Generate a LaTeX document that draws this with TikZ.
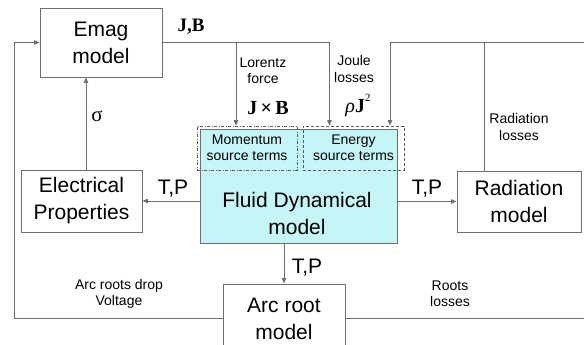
\documentclass[tikz,border=0pt]{standalone}
\usepackage{fontspec}
\setmainfont{Liberation Sans}
\newfontfamily\serifb{Liberation Serif}
\usetikzlibrary{arrows.meta}
\definecolor{linegray}{HTML}{6E6E6E}
\definecolor{fluidfill}{HTML}{C6F5F7}
\begin{document}
\begin{tikzpicture}[x=1pt,y=-1pt,
  conn/.style={draw=linegray, line width=0.9pt},
  arr/.style={conn, -{Triangle[length=5.5pt,width=4.5pt]}},
  box/.style={draw=linegray, line width=0.9pt, fill=white, align=center, inner sep=0pt,
     font=\fontsize{21}{27}\selectfont},
  small/.style={align=center, inner sep=0pt, font=\fontsize{14}{16.5}\selectfont},
  sym/.style={inner sep=0pt},
  tp/.style={inner sep=0pt, font=\fontsize{21}{24}\selectfont}]
\useasboundingbox (0,0) rectangle (584,345);
\begin{scope}
\clip (0,0) rectangle (584,345);
% boxes
\node[box, minimum width=122pt, minimum height=69pt] (emag) at (101,42.5) {Emag\\model};
\node[box, minimum width=121pt, minimum height=62pt] (elec) at (81.5,201) {Electrical\\Properties};
\node[box, fill=fluidfill, minimum width=197pt, minimum height=114pt] (fluid) at (298.5,186) {};
\node[box, minimum width=124pt, minimum height=61pt] (rad) at (519,201.5) {Radiation\\model};
\node[box, minimum width=122pt, minimum height=69pt] (arc) at (284,318.5) {Arc root\\model};
\node[box, fill=none, draw=none] (fluidtxt) at (297,213) {Fluid Dynamical\\model};
% source term boxes
\node[small, draw=linegray!80!black, line width=0.7pt, dash pattern=on 3pt off 1.5pt on 1pt off 1.5pt,
      minimum width=100pt, minimum height=44pt] (mom) at (247,148) {Momentum\\source terms};
\node[small, draw=linegray!80!black, line width=0.7pt, dash pattern=on 3pt off 2pt,
      minimum width=101pt, minimum height=44pt] (energy) at (353.5,148) {Energy\\source terms};
% coordinates
\coordinate (jb) at (329.5,42.5);
\coordinate (lz) at (236,42.5);
\coordinate (rtop) at (484,42.5);
\coordinate (rleft) at (390,42.5);
\coordinate (redge) at (584,42.5);
\coordinate (lc) at (14,318.5);
\coordinate (bedge) at (584,318.5);
% connectors
\draw[arr] (emag.east) -- (jb) -- (jb |- energy.north);
\draw[arr] (lz) -- (lz |- mom.north);
\draw[arr] (rad.north -| rtop) -- (rtop) -- (rleft) -- (rleft |- energy.north);
\draw[conn] (rtop) -- (redge);
\draw[arr] (fluid.west |- elec.east) -- (elec.east);
\draw[arr] (fluid.east |- rad.west) -- (rad.west);
\draw[arr] (fluid.south -| arc.north) -- (arc.north);
\draw[arr] ([xshift=4.5pt]elec.north) -- ([xshift=4.5pt]elec.north |- emag.south);
\draw[arr] (arc.west) -- (lc) -- (lc |- emag.west) -- (emag.west);
\draw[conn] (arc.east) -- (bedge);
% labels
\node[sym, font=\serifb\bfseries\fontsize{19}{19}\selectfont] (jblab) at (191,27) {J,B};
\node[small] (lorentz) at (263,71) {Lorentz\\force};
\node[sym, font=\serifb\bfseries\fontsize{20}{20}\selectfont] (jxb) at (268,108) {J\,×\,B};
\node[small] (joule) at (354,69) {Joule\\losses};
\node[sym, font=\serifb\fontsize{20}{20}\selectfont] (rhoj) at (358,105) {\textit{ρ}\textbf{J}\raisebox{0.55em}{\fontsize{11}{11}\selectfont 2}};
\node[sym, font=\serifb\fontsize{21}{21}\selectfont] (sigma) at (97,116) {σ};
\node[small] (radloss) at (519,127) {Radiation\\losses};
\node[tp] (tp1) at (173,189) {T,P};
\node[tp] (tp2) at (427,189) {T,P};
\node[tp] (tp3) at (307,268) {T,P};
\node[small] (drop) at (119,294) {Arc roots drop\\Voltage};
\node[small] (roots) at (450,294) {Roots\\losses};
\end{scope}
\end{tikzpicture}
\end{document}
